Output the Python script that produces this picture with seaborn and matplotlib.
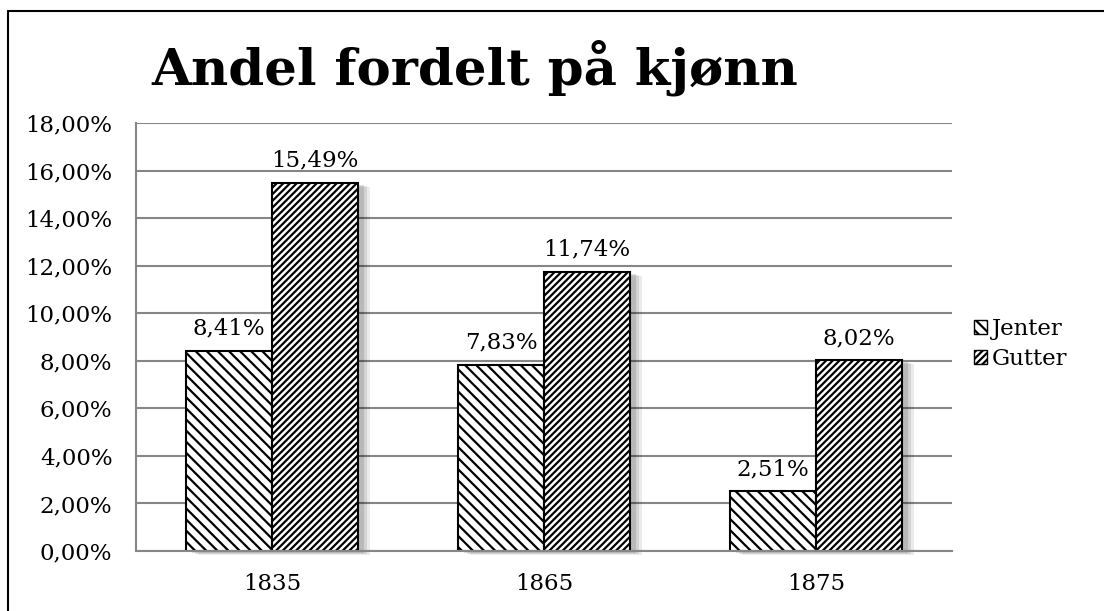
import pandas as pd
import matplotlib.pyplot as plt
from matplotlib.lines import Line2D
from matplotlib.patches import Patch, Rectangle
import seaborn as sns

# data
years = ['1835', '1865', '1875']
jenter = [8.41, 7.83, 2.51]
gutter = [15.49, 11.74, 8.02]
series = ['Jenter', 'Gutter']
hatches = ['\\\\\\', '/////']

df = pd.DataFrame({
    'År': years * 2,
    'Andel': jenter + gutter,
    'Kjønn': ['Jenter'] * 3 + ['Gutter'] * 3,
})

sns.set_style('white')
plt.rcParams['font.family'] = ['DejaVu Serif']
plt.rcParams['text.color'] = 'black'
plt.rcParams['xtick.labelcolor'] = 'black'
plt.rcParams['ytick.labelcolor'] = 'black'
plt.rcParams['hatch.linewidth'] = 1.6
plt.rcParams['hatch.color'] = 'black'
fs = 16.5

fig = plt.figure(figsize=(11.04, 6.11), dpi=100)
ax = fig.add_axes([136 / 1104, 60 / 611, 816 / 1104, 428 / 611])

sns.barplot(data=df, x='År', y='Andel', hue='Kjønn', hue_order=series,
            palette=['white', 'white'], edgecolor='black', linewidth=1.5,
            width=0.63, gap=0, ax=ax, legend=False, zorder=3)

# soft drop shadow to the right / below each bar
px_x = 3 / 816 * 3
px_y = 18 / 428
for i, cont in enumerate(ax.containers):
    for bar in cont:
        bar.set_hatch(hatches[i])
        x0, w, h = bar.get_x(), bar.get_width(), bar.get_height()
        for k, a in [(4, 0.08), (3, 0.1), (2, 0.12)]:
            ax.add_patch(Rectangle((x0 + k * px_x, -k * px_y), w, h, facecolor='black',
                                   alpha=a, linewidth=0, zorder=2, clip_on=False))
    ax.bar_label(cont, labels=[f'{v:.2f}%'.replace('.', ',') for v in cont.datavalues],
                 padding=8, fontsize=fs, color='black')

ax.set_ylim(0, 18)
ax.set_xlim(-0.5, 2.5)
ax.set_yticks(range(0, 19, 2))
ax.set_yticklabels([f'{v:.2f}%'.replace('.', ',') for v in range(0, 19, 2)], fontsize=fs)
ax.set_xticks(range(3))
ax.set_xticklabels(years, fontsize=fs)
ax.set_xticks([-0.5, 0.5, 1.5, 2.5], minor=True)
ax.tick_params(axis='x', which='major', length=0, pad=16)
ax.tick_params(axis='x', which='minor', length=6, width=1.5, color='#868686')
ax.tick_params(axis='y', length=6, width=1.5, color='#868686', pad=11)
ax.set_xlabel('')
ax.set_ylabel('')
ax.grid(axis='y', color='#868686', linewidth=1.5, zorder=0)
ax.set_axisbelow(True)
for side in ['top', 'right']:
    ax.spines[side].set_visible(False)
for side in ['left', 'bottom']:
    ax.spines[side].set_color('#868686')
    ax.spines[side].set_linewidth(1.5)
    ax.spines[side].set_zorder(4)

handles = [Patch(facecolor='white', edgecolor='black', hatch=h, label=s)
           for h, s in zip(hatches, series)]
fig.legend(handles=handles, loc='center left', bbox_to_anchor=(953 / 1104, 267 / 611),
           frameon=False, fontsize=fs, handlelength=0.6, handleheight=0.6,
           handletextpad=0.2, labelspacing=0.35)

fig.text(475 / 1104, 543 / 611, 'Andel fordelt på kjønn', ha='center', va='center',
         fontsize=37, fontweight='bold', color='black')

# chart border
fig.add_artist(Line2D([8 / 1104, 8 / 1104], [0, 600 / 611], color='black', linewidth=1.5))
fig.add_artist(Line2D([8 / 1104, 1], [600 / 611, 600 / 611], color='black', linewidth=1.5))

fig.savefig('out.png', dpi=100)
